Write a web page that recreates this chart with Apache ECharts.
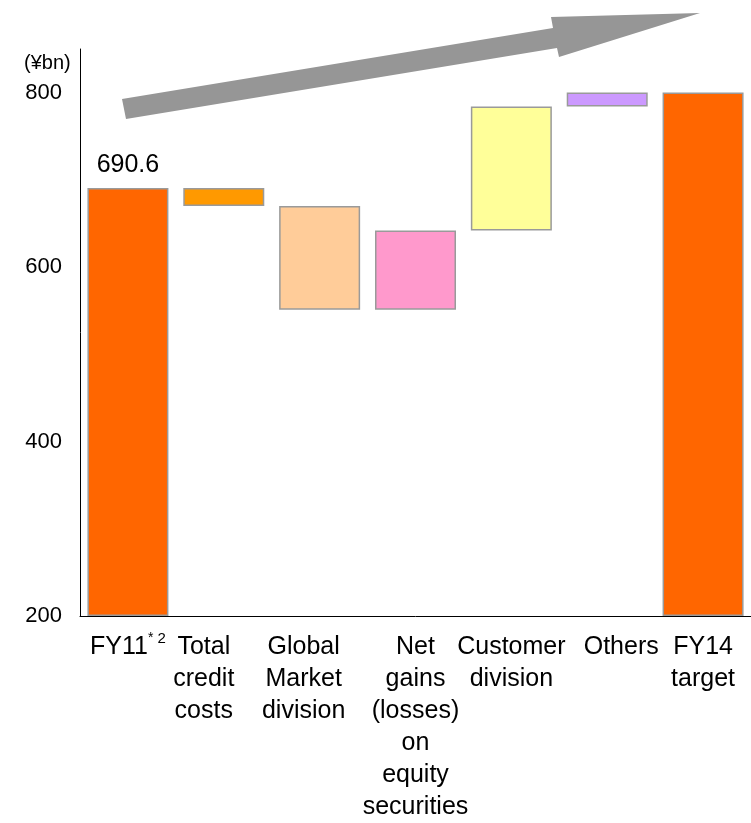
<!DOCTYPE html>
<html>
<head>
<meta charset="utf-8">
<script src="https://cdn.jsdelivr.net/npm/echarts@6/dist/echarts.min.js"></script>
<style>
html,body{margin:0;padding:0;background:#fff;}
#chart{width:751px;height:823px;}
</style>
</head>
<body>
<div id="chart"></div>
<script>
// ---- data ----
var categories = ['FY11{sa|*}{sb| 2}', 'Total\ncredit\ncosts', 'Global\nMarket\ndivision', 'Net\ngains\n(losses)\non\nequity\nsecurities', 'Customer\ndivision', 'Others', 'FY14\ntarget'];
var lows  = [200, 670, 551, 551, 642, 784, 200];
var highs = [690.6, 690.6, 670, 642, 784, 800, 800];
var barColors = ['#FF6600', '#FF9900', '#FFCC99', '#FF99CC', '#FFFF99', '#CC99FF', '#FF6600'];
var yTicks = [200, 400, 600, 800];
var unitLabel = '(¥bn)';
var startLabel = '690.6';

var FONT = 'Liberation Sans, Arial, sans-serif';
var labelShift = [0, -20, -16, 0, 0, 14, 0]; // px offset of each category label

var xData = categories.map(function (c, i) {
  var s = labelShift[i];
  var item = { value: c };
  if (s !== 0) {
    item.textStyle = { padding: s < 0 ? [0, -2 * s, 0, 0] : [0, 0, 0, 2 * s] };
  }
  return item;
});

var deltas = highs.map(function (h, i) { return +(h - lows[i]).toFixed(1); });
var valueData = deltas.map(function (d, i) {
  var item = { value: d, itemStyle: { color: barColors[i] } };
  if (i === 0) {
    item.label = { show: true, position: 'top', distance: 10, formatter: startLabel,
      fontSize: 25, color: '#000', fontFamily: FONT };
  }
  return item;
});

var chart = echarts.init(document.getElementById('chart'));
chart.setOption({
  animation: false,
  backgroundColor: '#fff',
  grid: { left: 80, right: -5, top: 49, bottom: 203, containLabel: false },
  xAxis: {
    type: 'category',
    data: xData,
    axisLine: { lineStyle: { color: '#000', width: 1 } },
    axisTick: { show: false },
    axisLabel: {
      interval: 0, margin: 15, fontSize: 25, lineHeight: 32, color: '#000', fontFamily: FONT,
      rich: {
        sa: { fontSize: 14, lineHeight: 24, verticalAlign: 'top', color: '#000', fontFamily: FONT },
        sb: { fontSize: 15, lineHeight: 26, verticalAlign: 'top', color: '#000', fontFamily: FONT }
      }
    }
  },
  yAxis: {
    type: 'value', min: 200, max: 850, interval: 200,
    axisLine: { show: true, lineStyle: { color: '#000', width: 1 } },
    axisTick: { show: false },
    splitLine: { show: false },
    axisLabel: {
      margin: 18, fontSize: 22, color: '#000', fontFamily: FONT,
      formatter: function (v) { return yTicks.indexOf(v) >= 0 ? String(v) : ''; }
    }
  },
  graphic: [
    { type: 'text', left: 24, top: 53, style: { text: unitLabel, fontSize: 20, fontFamily: FONT, fill: '#000' } },
    { type: 'polygon', z: 10, shape: { points: [[122, 99], [553, 28], [551, 17], [700, 13], [559, 57], [557, 48], [126, 119]] },
      style: { fill: '#969696' } }
  ],
  series: [
    { type: 'bar', stack: 'w', barWidth: 81, silent: true,
      itemStyle: { color: 'transparent', borderWidth: 0 }, data: lows },
    { type: 'bar', stack: 'w', barWidth: 81,
      itemStyle: { borderColor: '#9a9a9a', borderWidth: 1.5 }, data: valueData }
  ]
});
</script>
</body>
</html>
